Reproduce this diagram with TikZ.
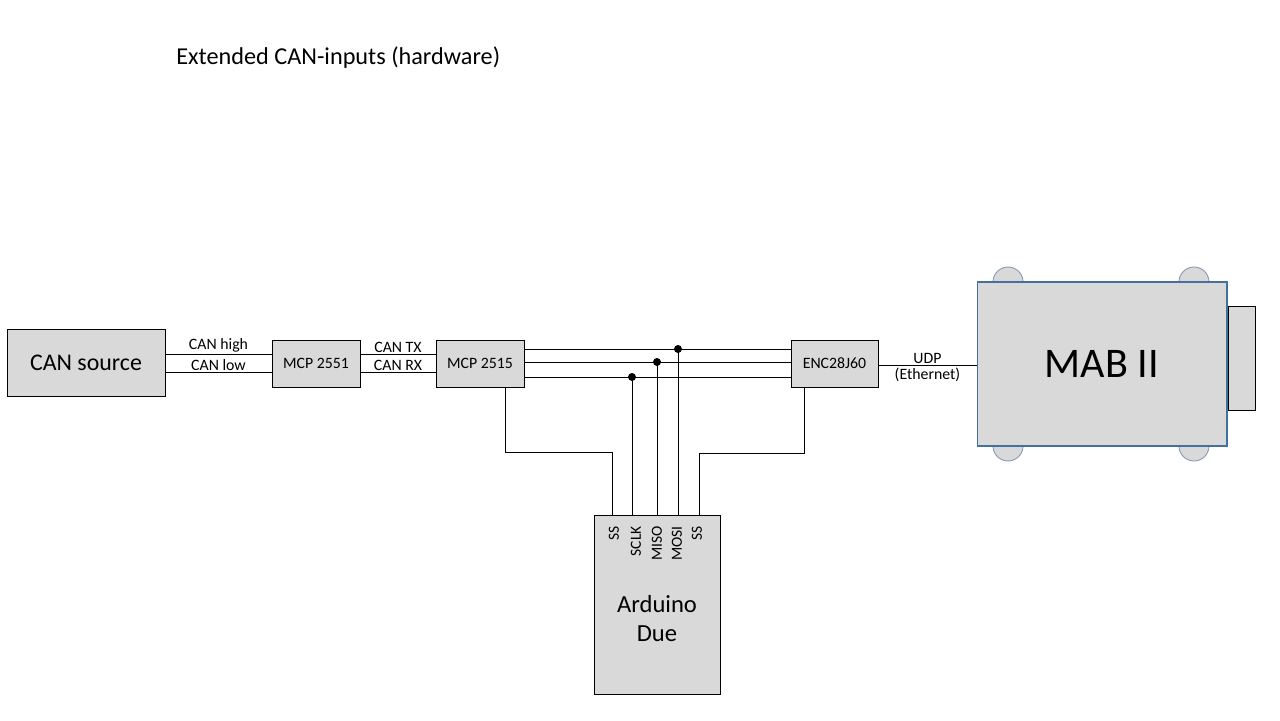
\documentclass[tikz,border=0pt]{standalone}
\usepackage{fontspec}
\setmainfont{Carlito}
\definecolor{boxgray}{HTML}{D9D9D9}
\definecolor{mabblue}{HTML}{41719C}
\definecolor{wheelblue}{HTML}{8497B0}

\begin{document}
\begin{tikzpicture}[x=0.02cm, y=-0.02cm, every node/.style={align=center},
  unit/.style={draw, fill=boxgray, inner sep=0pt, line width=0.5pt, font=\fontsize{9}{11}\selectfont},
  wire/.style={line width=0.5pt},
  wheel/.style={draw=wheelblue, fill=boxgray, line width=0.5pt},
  lbl/.style={font=\fontsize{9}{11}\selectfont, inner sep=0.5pt},
  pin/.style={font=\fontsize{8.8}{10}\selectfont, rotate=90, anchor=east, inner sep=0pt}]
\useasboundingbox (0,0) rectangle (1280,720);

% Title
\node[anchor=west, inner sep=0pt, font=\fontsize{13.8}{16}\selectfont] (title) at (176,58) {Extended CAN-inputs (hardware)};

% CAN side
\node[unit, minimum width=3.16cm, minimum height=1.34cm, font=\fontsize{13.6}{16}\selectfont] (cansrc) at (86,362.5) {CAN source};
\node[unit, minimum width=1.76cm, minimum height=0.94cm] (mcpa) at (316,363.5) {MCP 2551};
\node[unit, minimum width=1.76cm, minimum height=0.94cm] (mcpb) at (480,363.5) {MCP 2515};
\node[unit, minimum width=1.74cm, minimum height=0.94cm] (enc) at (834.5,363.5) {ENC28J60};

% MAB II with wheels and side plug
\foreach \wx in {993,1179} {
  \draw[wheel] (\wx,282) arc (180:0:0.3cm);
  \draw[wheel] (\wx,446) arc (180:360:0.3cm);
}
\node[draw=mabblue, fill=boxgray, line width=0.6pt, inner sep=0pt, minimum width=5cm, minimum height=3.28cm, font=\fontsize{24}{28}\selectfont] (mab) at (1102,364) {MAB II};
\node[unit, minimum width=0.54cm, minimum height=2.08cm] (plug) at (1241.5,358.5) {};

% Arduino
\node[unit, minimum width=2.52cm, minimum height=3.58cm] (due) at (657,604.5) {};
\node[font=\fontsize{14}{16.4}\selectfont] (duename) at (657,618.5) {Arduino\\Due};

% CAN lines
\draw[wire] (cansrc.east |- 0,354) -- (mcpa.west |- 0,354) node[lbl, midway, above] {CAN high};
\draw[wire] (cansrc.east |- 0,372) -- (mcpa.west |- 0,372) node[lbl, midway, above] {CAN low};
\draw[wire] (mcpa.east |- 0,354) -- (mcpb.west |- 0,354) node[lbl, midway, above] {CAN TX};
\draw[wire] (mcpa.east |- 0,372) -- (mcpb.west |- 0,372) node[lbl, midway, above] {CAN RX};

% SPI bus
\draw[wire] (mcpb.east |- 0,349) -- (enc.west |- 0,349);
\draw[wire] (mcpb.east |- 0,362) -- (enc.west |- 0,362);
\draw[wire] (mcpb.east |- 0,377) -- (enc.west |- 0,377);
\coordinate (mosi) at (678,349);
\coordinate (miso) at (657,362);
\coordinate (sclk) at (632,377);
\foreach \c in {mosi,miso,sclk} {
  \draw[wire] (\c) -- (\c |- due.north);
  \fill (\c) circle (0.08cm);
}

% chip selects
\draw[wire] (mcpb.south -| 505,0) |- (612,452) -- (due.north -| 612,0);
\draw[wire] (enc.south -| 804,0) |- (699,453) -- (due.north -| 699,0);

% pin names
\node[pin] (pssa) at (614,526) {SS};
\node[pin] (psclk) at (636,526) {SCLK};
\node[pin] (pmiso) at (657,526) {MISO};
\node[pin] (pmosi) at (677,526) {MOSI};
\node[pin] (pssb) at (697,526) {SS};

% Ethernet
\draw[wire] (enc.east |- 0,365) -- (mab.west |- 0,365) node[lbl, midway, above] {UDP} node[lbl, midway, below=1pt] {(Ethernet)};
\end{tikzpicture}
\end{document}
